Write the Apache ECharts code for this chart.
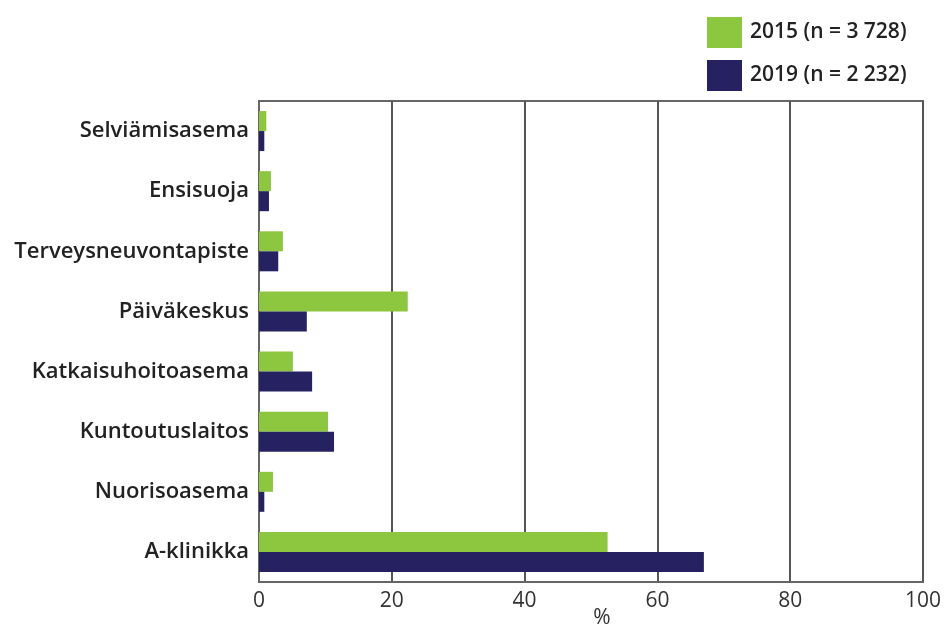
<!DOCTYPE html>
<html>
<head>
<meta charset="utf-8">
<script src="https://cdn.jsdelivr.net/npm/echarts@6/dist/echarts.min.js"></script>
<style>
html, body { margin: 0; padding: 0; background: #fff; }
#chart { width: 947px; height: 628px; }
</style>
</head>
<body>
<div id="chart"></div>
<script>
// kategoriat ylhäältä alas
var categories = ['Selviämisasema', 'Ensisuoja', 'Terveysneuvontapiste', 'Päiväkeskus',
	'Katkaisuhoitoasema', 'Kuntoutuslaitos', 'Nuorisoasema', 'A-klinikka'];
var values2015 = [1.1, 1.8, 3.6, 22.4, 5.1, 10.4, 2.1, 52.5];
var values2019 = [0.8, 1.5, 2.9, 7.2, 8.0, 11.3, 0.8, 67.0];
var seriesNames = ['2015 (n = 3 728)', '2019 (n = 2 232)'];
var xTicks = [0, 20, 40, 60, 80, 100];

var font = '"Open Sans", "Noto Sans", sans-serif';

var chart = echarts.init(document.getElementById('chart'));

var option = {
	animation: false,
	color: ['#8dc63f', '#262262'],
	textStyle: { fontFamily: font },
	legend: {
		orient: 'vertical',
		left: 707,
		top: 17,
		padding: 0,
		itemWidth: 35,
		itemHeight: 31,
		itemGap: 12,
		icon: 'rect',
		data: seriesNames,
		textStyle: { fontSize: 21, fontWeight: 600, color: '#222', fontFamily: font, padding: [0, 0, 0, 3] }
	},
	grid: {
		left: 259,
		right: 24,
		top: 101,
		bottom: 46,
		outerBoundsMode: 'none',
		containLabel: false,
		show: true,
		borderColor: '#666',
		borderWidth: 2
	},
	xAxis: {
		type: 'value',
		min: xTicks[0],
		max: xTicks[xTicks.length - 1],
		interval: 20,
		name: '%',
		nameLocation: 'middle',
		nameGap: 26,
		nameMoveOverlap: false,
		nameTextStyle: { fontSize: 21, color: '#333', fontFamily: font, padding: [0, 0, 0, 22] },
		axisLine: { show: true, lineStyle: { color: '#666', width: 2 } },
		axisTick: { show: false },
		axisLabel: { fontSize: 21, color: '#333', margin: 9, fontFamily: font },
		splitLine: { show: true, lineStyle: { color: '#555', width: 2 } }
	},
	yAxis: {
		type: 'category',
		inverse: true,
		data: categories,
		axisLine: { show: true, lineStyle: { color: '#666', width: 2 } },
		axisTick: { show: false },
		axisLabel: { fontSize: 22, fontWeight: 600, color: '#222', margin: 10, fontFamily: font, padding: [8, 0, 0, 0] }
	},
	series: [{
		name: seriesNames[0],
		type: 'bar',
		barWidth: 20,
		barGap: '0%',
		data: values2015
	}, {
		name: seriesNames[1],
		type: 'bar',
		barWidth: 20,
		barGap: '0%',
		data: values2019
	}]
};

chart.setOption(option);
</script>
</body>
</html>
